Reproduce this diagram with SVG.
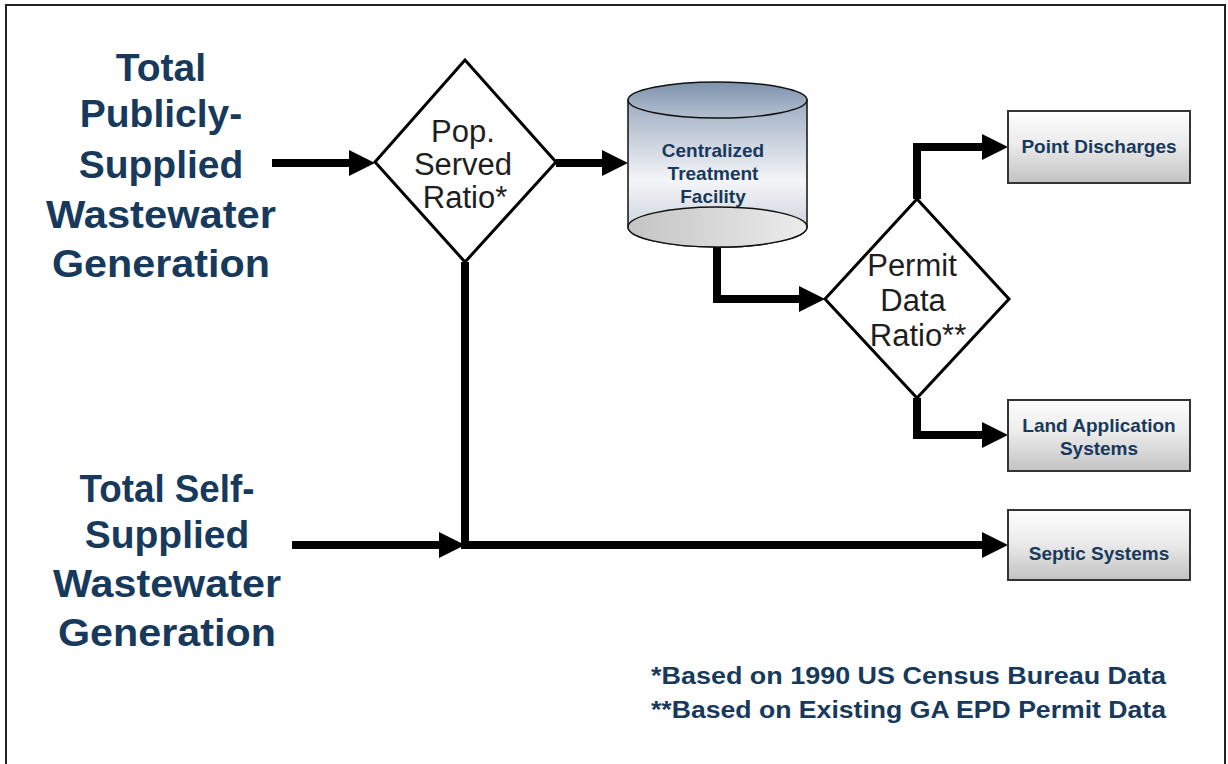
<svg xmlns="http://www.w3.org/2000/svg" width="1228" height="764" viewBox="0 0 1228 764">
<style>
.title{font-family:"Liberation Sans",Arial,sans-serif;font-weight:bold;font-size:39px;fill:#17395c;text-anchor:middle}
.dtext{font-family:"Liberation Sans",Arial,sans-serif;font-size:31px;fill:#1e1e1e;text-anchor:middle}
.btext{font-family:"Liberation Sans",Arial,sans-serif;font-weight:bold;font-size:19px;fill:#17395c;text-anchor:middle}
.ctext{font-family:"Liberation Sans",Arial,sans-serif;font-weight:bold;font-size:19px;fill:#17395c;text-anchor:middle}
.note{font-family:"Liberation Sans",Arial,sans-serif;font-weight:bold;font-size:23px;fill:#17395c}
.diamond{fill:#fff;stroke:#000;stroke-width:3}
.box{fill:url(#boxg);stroke:#333;stroke-width:2}
.conn{fill:none;stroke:#000;stroke-width:8;stroke-linejoin:miter}
</style>
<defs>
<marker id="ah" markerUnits="userSpaceOnUse" markerWidth="30" markerHeight="30" refX="0" refY="13" orient="auto">
<path d="M0,0 L26,13 L0,26 Z" fill="#000"/>
</marker>
<linearGradient id="boxg" x1="0" y1="0" x2="0" y2="1">
<stop offset="0" stop-color="#fdfdfd"/>
<stop offset="0.45" stop-color="#ececec"/>
<stop offset="1" stop-color="#c2c2c2"/>
</linearGradient>
<linearGradient id="topg" x1="0" y1="0" x2="0" y2="1">
<stop offset="0" stop-color="#7d92ad"/>
<stop offset="1" stop-color="#b4c0d0"/>
</linearGradient>
<linearGradient id="bodyg" x1="0" y1="0" x2="0" y2="1">
<stop offset="0" stop-color="#9eadc2"/>
<stop offset="0.55" stop-color="#f4f5f8"/>
<stop offset="1" stop-color="#bfc6d2"/>
</linearGradient>
<linearGradient id="botg" x1="0" y1="0" x2="1" y2="0">
<stop offset="0" stop-color="#c4c4c4"/>
<stop offset="1" stop-color="#ececec"/>
</linearGradient>
</defs>
<rect x="6" y="5" width="1219" height="775" fill="#fff" stroke="#222" stroke-width="2"/>

<g id="public-title">
<text class="title" x="161" y="81">Total</text>
<text class="title" x="161" y="127">Publicly-</text>
<text class="title" x="161" y="178">Supplied</text>
<text class="title" x="161" y="228" textLength="230" lengthAdjust="spacingAndGlyphs">Wastewater</text>
<text class="title" x="161" y="277" textLength="218" lengthAdjust="spacingAndGlyphs">Generation</text>
</g>

<g id="self-title">
<text class="title" x="167" y="502" textLength="175" lengthAdjust="spacingAndGlyphs">Total Self-</text>
<text class="title" x="167" y="548">Supplied</text>
<text class="title" x="167" y="597" textLength="228" lengthAdjust="spacingAndGlyphs">Wastewater</text>
<text class="title" x="167" y="646" textLength="218" lengthAdjust="spacingAndGlyphs">Generation</text>
</g>

<g id="connectors">
<path class="conn" d="M272,163 L349,163" marker-end="url(#ah)"/>
<path class="conn" d="M556,163 L602,163" marker-end="url(#ah)"/>
<path class="conn" d="M717,247 L717,299 L799,299" marker-end="url(#ah)"/>
<path class="conn" d="M917,199 L917,147 L982,147" marker-end="url(#ah)"/>
<path class="conn" d="M917,398 L917,435 L982,435" marker-end="url(#ah)"/>
<path class="conn" d="M292,545 L439,545" marker-end="url(#ah)"/>
<path class="conn" d="M465,262 L465,545 L982,545" marker-end="url(#ah)"/>
</g>

<g id="pop-served-ratio">
<polygon class="diamond" points="465,60 556,162 465,262 375,162"/>
<text class="dtext" x="463" y="142">Pop.</text>
<text class="dtext" x="463" y="175">Served</text>
<text class="dtext" x="465" y="208">Ratio*</text>
</g>

<g id="treatment-facility">
<path d="M628,100 L628,227 A89.5,20 0 0 0 807,227 L807,100 Z" fill="url(#bodyg)" stroke="#111" stroke-width="1.5"/>
<ellipse cx="717.5" cy="100" rx="89.5" ry="18" fill="url(#topg)" stroke="#111" stroke-width="1.5"/>
<text class="ctext" x="713" y="157">Centralized</text>
<text class="ctext" x="713" y="180">Treatment</text>
<text class="ctext" x="713" y="203">Facility</text>
<ellipse cx="717.5" cy="227" rx="89.5" ry="20" fill="url(#botg)" stroke="#111" stroke-width="1.5"/>
</g>

<g id="permit-data-ratio">
<polygon class="diamond" points="917,199 1009,299 917,398 825,299"/>
<text class="dtext" x="912" y="276">Permit</text>
<text class="dtext" x="913" y="311">Data</text>
<text class="dtext" x="918" y="346">Ratio**</text>
</g>

<g id="point-discharges">
<rect class="box" x="1008" y="111" width="182" height="72"/>
<text class="btext" x="1099" y="153">Point Discharges</text>
</g>

<g id="land-application">
<rect class="box" x="1008" y="400" width="182" height="71"/>
<text class="btext" x="1099" y="432">Land Application</text>
<text class="btext" x="1099" y="455">Systems</text>
</g>

<g id="septic-systems">
<rect class="box" x="1008" y="510" width="182" height="70"/>
<text class="btext" x="1099" y="560">Septic Systems</text>
</g>

<g id="notes">
<text class="note" x="651" y="684" textLength="515" lengthAdjust="spacingAndGlyphs">*Based on 1990 US Census Bureau Data</text>
<text class="note" x="651" y="718" textLength="515" lengthAdjust="spacingAndGlyphs">**Based on Existing GA EPD Permit Data</text>
</g>
</svg>
